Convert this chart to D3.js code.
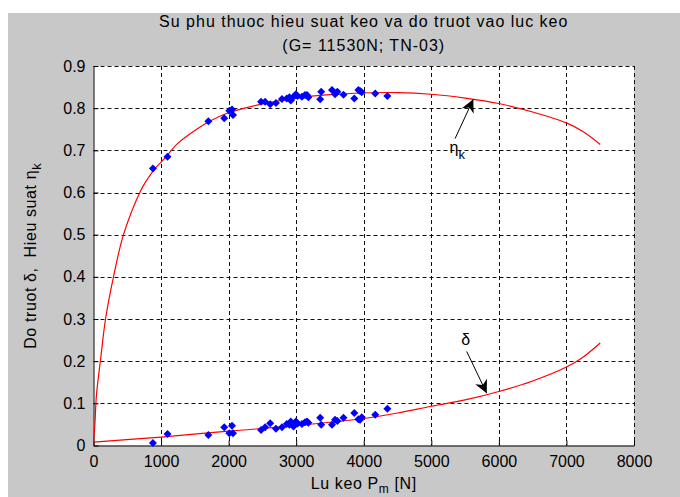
<!DOCTYPE html>
<html>
<head>
<meta charset="utf-8">
<script src="https://cdn.jsdelivr.net/npm/d3@7"></script>
<style>
    body { margin: 0; background: #fff; }
    svg text { font-family: "Liberation Sans", Arial, sans-serif; fill: #000; }
</style>
</head>
<body>
<script>
// Measured points (load P in N, efficiency eta_k, slip delta)
const measP = [880, 1095, 1700, 1935, 2010, 2050, 2065, 2480, 2540, 2615, 2700, 2790, 2860, 2900, 2920, 2960, 2995, 3020, 3085, 3130, 3160, 3180, 3355, 3370, 3530, 3575, 3610, 3700, 3860, 3920, 3945, 3970, 4170, 4350];
const measEta = [0.657, 0.685, 0.769, 0.776, 0.794, 0.797, 0.784, 0.815, 0.815, 0.809, 0.812, 0.822, 0.823, 0.826, 0.818, 0.827, 0.833, 0.829, 0.827, 0.831, 0.831, 0.826, 0.821, 0.839, 0.843, 0.833, 0.839, 0.832, 0.823, 0.843, 0.841, 0.838, 0.835, 0.829];
const measDelta = [0.006, 0.027, 0.025, 0.043, 0.029, 0.047, 0.029, 0.037, 0.043, 0.053, 0.040, 0.043, 0.051, 0.049, 0.057, 0.045, 0.057, 0.052, 0.051, 0.055, 0.057, 0.054, 0.066, 0.049, 0.049, 0.061, 0.058, 0.066, 0.077, 0.062, 0.061, 0.067, 0.073, 0.087];

// Fitted curves
const fitEtaP = [0, 20, 44, 109, 178, 296, 444, 700, 800, 900, 1000, 1100, 1250, 1500, 1700, 2000, 2500, 3000, 3500, 4000, 4500, 5000, 5500, 6000, 6500, 7000, 7250, 7500];
const fitEta = [0.008, 0.05, 0.12, 0.21, 0.30, 0.40, 0.50, 0.605, 0.632, 0.655, 0.672, 0.69, 0.717, 0.747, 0.767, 0.789, 0.81, 0.824, 0.832, 0.836, 0.837, 0.833, 0.824, 0.811, 0.791, 0.765, 0.744, 0.714];
const fitDeltaP = [0, 1000, 2000, 3000, 4000, 4500, 5000, 5500, 6000, 6500, 7000, 7250, 7500];
const fitDelta = [0.008, 0.02, 0.034, 0.047, 0.064, 0.077, 0.093, 0.108, 0.128, 0.153, 0.186, 0.21, 0.243];

// Tick values
const xTicks = [0, 1000, 2000, 3000, 4000, 5000, 6000, 7000, 8000];
const yTicks = [0, 0.1, 0.2, 0.3, 0.4, 0.5, 0.6, 0.7, 0.8, 0.9];

// Annotation anchors (data units): [textP, textY, tailP, tailY, tipP, tipY]
const etaNote = [5270, 0.693, 5352, 0.728, 5621, 0.821];
const deltaNote = [5509, 0.238, 5524, 0.223, 5820, 0.124];

const W = 680, H = 497;
const plot = { left: 93.5, right: 634, top: 66, bottom: 445.5 };

const svg = d3.select("body").append("svg")
    .attr("width", W)
    .attr("height", H);

// gray figure background
svg.append("rect")
    .attr("x", 8).attr("y", 13)
    .attr("width", W - 8).attr("height", H - 13)
    .attr("fill", "#c8c8c8");

// white axes area
svg.append("rect")
    .attr("x", plot.left).attr("y", plot.top)
    .attr("width", plot.right - plot.left).attr("height", plot.bottom - plot.top)
    .attr("fill", "#fff");

const x = d3.scaleLinear().domain([0, 8000]).range([plot.left, plot.right]);
const y = d3.scaleLinear().domain([0, 0.9]).range([plot.bottom, plot.top]);

// grid lines
svg.append("g")
    .selectAll("line")
    .data(xTicks.slice(1))
    .enter().append("line")
    .attr("x1", d => Math.round(x(d)) + 0.5).attr("x2", d => Math.round(x(d)) + 0.5)
    .attr("y1", plot.top).attr("y2", plot.bottom)
    .attr("stroke", "#111")
    .attr("stroke-dasharray", "4,3");

svg.append("g")
    .selectAll("line")
    .data(yTicks.slice(1))
    .enter().append("line")
    .attr("x1", plot.left).attr("x2", plot.right)
    .attr("y1", d => Math.round(y(d)) + 0.5).attr("y2", d => Math.round(y(d)) + 0.5)
    .attr("stroke", "#111")
    .attr("stroke-dasharray", "4,3");

// axes
const xAxis = d3.axisBottom(x).tickValues(xTicks).tickSizeInner(-5).tickSizeOuter(0).tickPadding(10).tickFormat(d3.format("d"));
const yAxis = d3.axisLeft(y).tickValues(yTicks).tickSizeInner(-5).tickSizeOuter(0).tickPadding(8).tickFormat(d => d === 0 ? "0" : d3.format(".1f")(d));

svg.append("g")
    .attr("transform", "translate(0," + plot.bottom + ")")
    .call(xAxis)
    .call(g => g.selectAll("text").attr("font-size", 16).attr("font-family", "Liberation Sans"))
    .call(g => g.selectAll("path, line").attr("stroke", "#000"));

svg.append("g")
    .attr("transform", "translate(" + plot.left + ",0)")
    .call(yAxis)
    .call(g => g.selectAll("text").attr("font-size", 16).attr("font-family", "Liberation Sans"))
    .call(g => g.selectAll("path, line").attr("stroke", "#000"));

// fitted curves
const etaLine = d3.line()
    .x((d, i) => x(fitEtaP[i]))
    .y(d => y(d))
    .curve(d3.curveCatmullRom.alpha(0.5));

svg.append("path")
    .datum(fitEta)
    .attr("d", etaLine)
    .attr("fill", "none")
    .attr("stroke", "#ff0000")
    .attr("stroke-width", 1.2);

const deltaLine = d3.line()
    .x((d, i) => x(fitDeltaP[i]))
    .y(d => y(d))
    .curve(d3.curveCatmullRom.alpha(0.5));

svg.append("path")
    .datum(fitDelta)
    .attr("d", deltaLine)
    .attr("fill", "none")
    .attr("stroke", "#ff0000")
    .attr("stroke-width", 1.2);

// measured points (blue diamonds, as wide as tall)
const diamond = "M0,-4L4,0L0,4L-4,0Z";

svg.append("g")
    .selectAll("path")
    .data(measEta)
    .enter().append("path")
    .attr("d", diamond)
    .attr("transform", (d, i) => "translate(" + x(measP[i]) + "," + y(d) + ")")
    .attr("fill", "#0000ff");

svg.append("g")
    .selectAll("path")
    .data(measDelta)
    .enter().append("path")
    .attr("d", diamond)
    .attr("transform", (d, i) => "translate(" + x(measP[i]) + "," + y(d) + ")")
    .attr("fill", "#0000ff");

// arrow annotations
svg.append("defs").append("marker")
    .attr("id", "head")
    .attr("viewBox", "0 0 10 10")
    .attr("refX", 10).attr("refY", 5)
    .attr("markerWidth", 16).attr("markerHeight", 13)
    .attr("markerUnits", "userSpaceOnUse")
    .attr("orient", "auto")
    .append("path")
    .attr("d", "M0,0 L10,5 L0,10 L3,5 Z")
    .attr("fill", "#000");

function arrow(n) {
    svg.append("line")
        .attr("x1", x(n[2])).attr("y1", y(n[3]))
        .attr("x2", x(n[4])).attr("y2", y(n[5]))
        .attr("stroke", "#000")
        .attr("stroke-width", 1)
        .attr("marker-end", "url(#head)");
}
arrow(etaNote);
arrow(deltaNote);

const etaText = svg.append("text")
    .attr("x", x(etaNote[0])).attr("y", y(etaNote[1]))
    .attr("font-size", 16);
etaText.append("tspan").text("η");
etaText.append("tspan").attr("dy", 6).attr("font-size", 13).text("k");

svg.append("text")
    .attr("x", x(deltaNote[0])).attr("y", y(deltaNote[1]))
    .attr("text-anchor", "middle")
    .attr("font-size", 16)
    .text("δ");

// titles
const cx = (plot.left + plot.right) / 2;
svg.append("text")
    .attr("x", cx).attr("y", 27)
    .attr("text-anchor", "middle")
    .attr("font-size", 16)
    .attr("letter-spacing", 1)
    .text("Su phu thuoc hieu suat keo va do truot vao luc keo");

svg.append("text")
    .attr("x", cx).attr("y", 51)
    .attr("text-anchor", "middle")
    .attr("font-size", 16)
    .attr("letter-spacing", 1)
    .text("(G= 11530N; TN-03)");

// x label
const xLab = svg.append("text")
    .attr("x", cx).attr("y", 489)
    .attr("text-anchor", "middle")
    .attr("font-size", 16)
    .attr("letter-spacing", 0.6);
xLab.append("tspan").text("Lu keo P");
xLab.append("tspan").attr("dy", 4).attr("font-size", 12).text("m");
xLab.append("tspan").attr("dy", -4).text(" [N]");

// y label
const yLab = svg.append("text")
    .attr("transform", "translate(36," + (plot.top + plot.bottom) / 2 + ") rotate(-90)")
    .attr("text-anchor", "middle")
    .attr("font-size", 16)
    .attr("letter-spacing", 0.6);
yLab.append("tspan").text("Do truot δ,\u00a0 Hieu suat η");
yLab.append("tspan").attr("dy", 5).attr("font-size", 13).text("k");
</script>
</body>
</html>
